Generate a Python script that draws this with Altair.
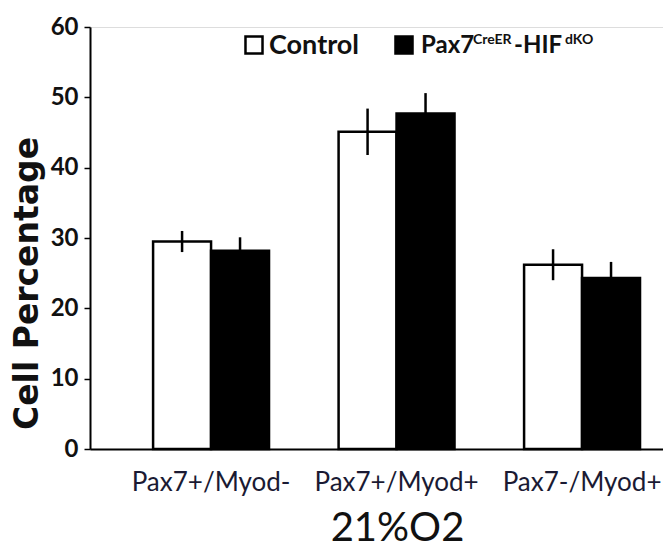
import altair as alt
import pandas as pd

groups = ["Pax7+/Myod-", "Pax7+/Myod+", "Pax7-/Myod+"]
conditions = ["Control", "Pax7CreER-HIFdKO"]
control_vals = [29.5, 45.1, 26.2]
control_err = [1.5, 3.3, 2.2]
ko_vals = [28.2, 47.7, 24.3]
ko_err = [1.9, 2.9, 2.3]
y_ticks = [0, 10, 20, 30, 40, 50, 60]

rows = []
for g, v, e in zip(groups, control_vals, control_err):
    rows.append({"group": g, "cond": conditions[0], "value": v, "lo": v - e, "hi": v + e})
for g, v, e in zip(groups, ko_vals, ko_err):
    rows.append({"group": g, "cond": conditions[1], "value": v, "lo": v - e, "hi": v + e})
df = pd.DataFrame(rows)

FONT = "Lato"

x = alt.X("group:N", sort=groups,
          scale=alt.Scale(paddingInner=0.375, paddingOuter=0.232, align=0.733),
          axis=alt.Axis(title="21%O2", labelAngle=0, ticks=False, domainColor="#000",
                        domainWidth=2, labelFont=FONT, labelFontSize=26, labelColor="#1a1a33",
                        labelPadding=20, titleFont=FONT, titleFontSize=40,
                        titleFontWeight="normal", titleColor="#111",
                        titleX=307, titleY=99, titleAlign="center",
                        titleBaseline="bottom"))
y = alt.Y("value:Q", scale=alt.Scale(domain=[0, 60]),
          axis=alt.Axis(title="Cell Percentage", values=y_ticks, grid=False, tickSize=6,
                        tickColor="#000", tickWidth=1.5, domainColor="#000", domainWidth=2,
                        labelFont=FONT, labelFontSize=24, labelFontWeight="bold",
                        labelColor="#111", labelPadding=6, titleFont="DejaVu Sans",
                        titleFontSize=33, titleFontWeight="bold", titleColor="#111",
                        titleX=-46, titleY=256, titleAlign="center", titleAngle=-90,
                        titleBaseline="bottom"))
xo = alt.XOffset("cond:N", sort=conditions, scale=alt.Scale(paddingInner=0, paddingOuter=0))

bars = alt.Chart(df).mark_bar(stroke="black", strokeWidth=2.5).encode(
    x=x, xOffset=xo, y=y,
    fill=alt.Fill("cond:N", scale=alt.Scale(domain=conditions, range=["white", "black"]),
                  legend=None),
)
errs = alt.Chart(df).mark_rule(color="black", strokeWidth=2.5).encode(
    x=alt.X("group:N", sort=groups), xOffset=xo,
    y=alt.Y("lo:Q"), y2="hi:Q",
)

# manual legend (with superscripts)
leg_sq = pd.DataFrame({"cond": conditions, "px": [164, 314], "fill": ["white", "black"]})
squares = alt.Chart(leg_sq).mark_square(size=290, stroke="black", strokeWidth=2.5, opacity=1).encode(
    x=alt.X("px:Q", scale=None), y=alt.value(18),
    fill=alt.Fill("fill:N", scale=None),
)
leg_txt = pd.DataFrame({
    "t": ["Control", "Pax7", "CreER", "-HIF", "dKO"],
    "px": [179, 331, 383, 424, 475],
    "py": [27, 26, 17, 26, 17],
    "fs": [27, 24, 14, 24, 14],
})
texts = alt.Chart(leg_txt).mark_text(align="left", baseline="alphabetic", font=FONT,
                                     color="#111", fontWeight="bold").encode(
    x=alt.X("px:Q", scale=None), y=alt.Y("py:Q", scale=None),
    text="t:N", size=alt.Size("fs:Q", scale=None),
)

chart = alt.layer(bars, errs, squares, texts).properties(
    width=573, height=422,
    autosize=alt.AutoSizeParams(type="none"),
    padding={"left": 82, "top": 19, "right": 0, "bottom": 102},
).configure_view(stroke=None).configure(background="white")

chart.save("out.html", embed_options={"renderer": "svg", "actions": False})
